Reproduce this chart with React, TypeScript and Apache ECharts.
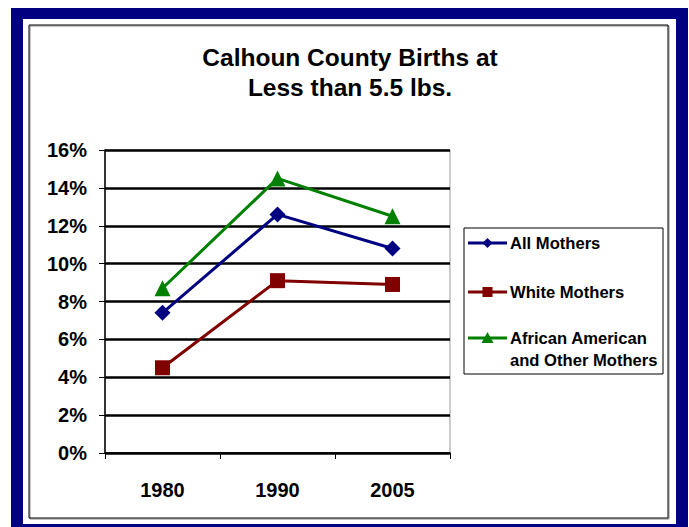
import React, { useEffect, useRef } from "react";
import * as echarts from "echarts";

const categories = ["1980", "1990", "2005"];
const allMothers = [7.4, 12.6, 10.8];
const whiteMothers = [4.5, 9.1, 8.9];
const africanAmerican = [8.7, 14.5, 12.5];
const seriesNames = ["All Mothers", "White Mothers", "African American\nand Other Mothers"];
const titleLines = ["Calhoun County Births at", "Less than 5.5 lbs."];

const BLUE = "#000080";
const RED = "#800000";
const GREEN = "#008000";
const FONT = "Liberation Sans, Arial, Helvetica, sans-serif";

export default function App() {
  const ref = useRef<HTMLDivElement>(null);
  useEffect(() => {
    if (!ref.current) return;
    const chart = echarts.init(ref.current, undefined, { renderer: "svg" });
    const legendItems = [
      { name: seriesNames[0], color: BLUE, symbol: "diamond", y: 243 },
      { name: seriesNames[1], color: RED, symbol: "square", y: 292 },
      { name: seriesNames[2], color: GREEN, symbol: "triangle", y: 338 },
    ];
    const legendGraphics: any[] = [];
    legendItems.forEach((it) => {
      legendGraphics.push({
        type: "line",
        shape: { x1: 468, y1: it.y, x2: 507, y2: it.y },
        style: { stroke: it.color, lineWidth: 3 },
      });
      const cx = 487.5, cy = it.y;
      if (it.symbol === "diamond") {
        legendGraphics.push({
          type: "polygon",
          shape: { points: [[cx, cy - 5], [cx + 5, cy], [cx, cy + 5], [cx - 5, cy]] },
          style: { fill: it.color },
        });
      } else if (it.symbol === "square") {
        legendGraphics.push({
          type: "rect",
          shape: { x: cx - 5, y: cy - 5, width: 10, height: 10 },
          style: { fill: it.color },
        });
      } else {
        legendGraphics.push({
          type: "polygon",
          shape: { points: [[cx, cy - 6], [cx + 6, cy + 5], [cx - 6, cy + 5]] },
          style: { fill: it.color },
        });
      }
      const lines = it.name.split("\n");
      lines.forEach((ln, i) => {
        legendGraphics.push({
          type: "text",
          x: 510,
          y: it.y + i * 22,
          style: {
            text: ln,
            font: `bold 16.6px ${FONT}`,
            fill: "#000",
            textVerticalAlign: "middle",
            textAlign: "left",
          },
        });
      });
    });

    chart.setOption({
      animation: false,
      graphic: [
        {
          type: "rect",
          shape: { x: 30, y: 26, width: 639, height: 493 },
          style: { fill: "none", stroke: "#888", lineWidth: 1 },
          silent: true,
        },
        {
          type: "rect",
          shape: { x: 29, y: 25, width: 639, height: 493 },
          style: { fill: "none", stroke: "#000", lineWidth: 1 },
          silent: true,
        },
        ...titleLines.map((t, i) => ({
          type: "text",
          x: 350,
          y: 57 + i * 30,
          style: {
            text: t,
            font: `bold 24.5px ${FONT}`,
            fill: "#000",
            textAlign: "center",
            textVerticalAlign: "middle",
          },
        })),
        {
          type: "rect",
          shape: { x: 464, y: 228, width: 199, height: 146 },
          style: { fill: "#fff", stroke: "#000", lineWidth: 1 },
        },
        ...legendGraphics,
      ],
      grid: {
        left: 105,
        top: 150,
        width: 345,
        height: 303,
        show: true,
        borderColor: "#999",
        borderWidth: 1,
        backgroundColor: "transparent",
      },
      xAxis: {
        type: "category",
        data: categories,
        boundaryGap: true,
        axisLine: { lineStyle: { color: "#000", width: 1.5 } },
        axisTick: { show: true, length: 6, lineStyle: { color: "#000" } },
        axisLabel: {
          margin: 27,
          fontSize: 20,
          fontWeight: "bold",
          fontFamily: FONT,
          color: "#000",
        },
      },
      yAxis: {
        type: "value",
        min: 0,
        max: 16,
        interval: 2,
        axisLine: { show: true, lineStyle: { color: "#000", width: 1.5 } },
        axisTick: { show: true, length: 6, lineStyle: { color: "#000" } },
        axisLabel: {
          margin: 18,
          fontSize: 20,
          fontWeight: "bold",
          fontFamily: FONT,
          color: "#000",
          formatter: (v: number) => `${v}%`,
        },
        splitLine: { show: true, lineStyle: { color: "#000", width: 2.5 } },
      },
      series: [
        {
          name: seriesNames[0],
          type: "line",
          data: allMothers,
          symbol: "diamond",
          symbolSize: 16,
          lineStyle: { color: BLUE, width: 3 },
          itemStyle: { color: BLUE },
          z: 4,
        },
        {
          name: seriesNames[1],
          type: "line",
          data: whiteMothers,
          symbol: "rect",
          symbolSize: 15,
          lineStyle: { color: RED, width: 3 },
          itemStyle: { color: RED },
          z: 3,
        },
        {
          name: seriesNames[2],
          type: "line",
          data: africanAmerican,
          symbol: "triangle",
          symbolSize: 16,
          lineStyle: { color: GREEN, width: 3 },
          itemStyle: { color: GREEN },
          z: 5,
        },
      ],
    });
    return () => chart.dispose();
  }, []);

  return (
    <div style={{ position: "absolute", left: 0, top: 0, width: 689, height: 527, background: "#fff", overflow: "hidden" }}>
      <div style={{ position: "absolute", left: 11, top: 8, width: 677, height: 519, background: BLUE }} />
      <div style={{ position: "absolute", left: 23, top: 19, width: 653, height: 505, background: "#fff" }} />
      <div ref={ref} style={{ position: "absolute", left: 0, top: 0, width: 689, height: 527 }} />
    </div>
  );
}
